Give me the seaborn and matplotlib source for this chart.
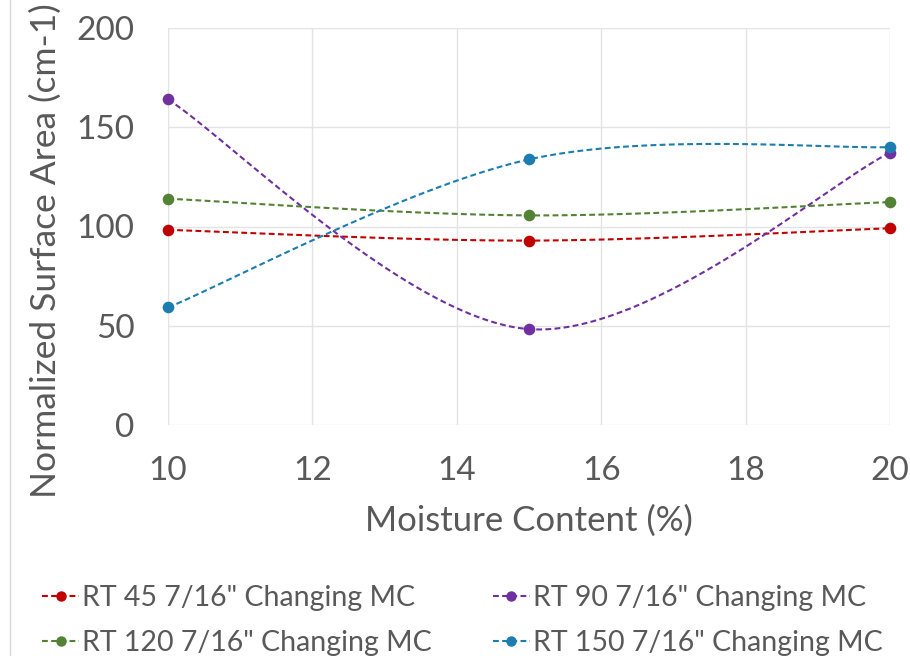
import numpy as np
import pandas as pd
import matplotlib
matplotlib.use("Agg")
import matplotlib.pyplot as plt
import seaborn as sns
from matplotlib.lines import Line2D

# ---- data ----
moisture = [10, 15, 20]
series_names = ['RT 45 7/16" Changing MC', 'RT 90 7/16" Changing MC',
                'RT 120 7/16" Changing MC', 'RT 150 7/16" Changing MC']
rt45 = [98.3, 92.9, 99.1]
rt90 = [164.0, 48.3, 137.2]
rt120 = [114.0, 105.6, 112.3]
rt150 = [59.2, 133.8, 140.0]
colors = ["#C00000", "#7030A0", "#548235", "#1B7DB0"]

x_ticks = [10, 12, 14, 16, 18, 20]
y_ticks = [0, 50, 100, 150, 200]

sns.set_theme(style="white")
plt.rcParams['font.family'] = ['Lato', 'DejaVu Sans']
TXT = "#595959"


def smooth(xs, ys, n=60):
    """Excel-style smoothed line (Catmull-Rom Bezier) through the data points."""
    xs = np.asarray(xs, float); ys = np.asarray(ys, float)
    P = np.column_stack([xs, ys])
    out = []
    for i in range(len(P) - 1):
        p0 = P[i - 1] if i > 0 else P[i]
        p1, p2 = P[i], P[i + 1]
        p3 = P[i + 2] if i + 2 < len(P) else P[i + 1]
        c1 = p1 + (p2 - p0) / 6.0
        c2 = p2 - (p3 - p1) / 6.0
        t = np.linspace(0, 1, n)[:, None]
        seg = ((1 - t) ** 3) * p1 + 3 * ((1 - t) ** 2) * t * c1 + 3 * (1 - t) * t ** 2 * c2 + t ** 3 * p2
        out.append(seg if i == 0 else seg[1:])
    return np.vstack(out)


fig = plt.figure(figsize=(9.10, 6.56), dpi=100)
ax = fig.add_axes([168 / 910, 1 - 425 / 656, (890 - 168) / 910, (425 - 28) / 656])

DASH = (0, (2.8, 1.6))
all_vals = [rt45, rt90, rt120, rt150]
for name, vals, col in zip(series_names, all_vals, colors):
    curve = smooth(moisture, vals)
    cdf = pd.DataFrame({"x": curve[:, 0], "y": curve[:, 1]})
    sns.lineplot(data=cdf, x="x", y="y", ax=ax, color=col, lw=1.5, sort=False,
                 estimator=None, linestyle=DASH, zorder=3)
    pdf = pd.DataFrame({"x": moisture, "y": vals})
    sns.scatterplot(data=pdf, x="x", y="y", ax=ax, color=col, s=70,
                    edgecolor=col, linewidth=0, zorder=4, clip_on=False)

ax.set_xlim(10, 20)
ax.set_ylim(0, 200)
ax.set_xticks(x_ticks)
ax.set_yticks(y_ticks)
ax.grid(True, color="#E3E3E3", lw=1.0)
ax.set_axisbelow(True)
for s in ax.spines.values():
    s.set_visible(False)
ax.tick_params(axis="both", length=0, labelsize=24, labelcolor=TXT)
ax.tick_params(axis="y", pad=24)
ax.tick_params(axis="x", pad=22)
ax.set_xlabel("Moisture Content (%)", fontsize=25, color=TXT)
ax.set_ylabel("Normalized Surface Area (cm-1)", fontsize=25.5, color=TXT)
ax.xaxis.set_label_coords(0.5, (425 - 521) / 397, transform=ax.transAxes)
ax.yaxis.label.set_va("center")
ax.xaxis.label.set_va("center")
ax.yaxis.set_label_coords((46 - 168) / 722, (425 - 251) / 397, transform=ax.transAxes)

handles = [Line2D([0], [0], color=c, lw=1.5, linestyle=DASH, marker="o",
                  markersize=7.5, markeredgewidth=0) for c in colors]
# legend fills column-wise: reorder so rows read 45 | 90, 120 | 150
order = [0, 2, 1, 3]
fig.legend([handles[i] for i in order], [series_names[i] for i in order],
           loc="upper left", bbox_to_anchor=(42 / 910, 1 - 585 / 656),
           ncol=2, frameon=False, fontsize=20.5, labelcolor=TXT, handlelength=1.3,
           handletextpad=0.1, columnspacing=2.15, labelspacing=0.68, borderaxespad=0,
           borderpad=0)

# chart-area border (left edge visible)
fig.add_artist(Line2D([10 / 910, 10 / 910], [0, 1], color="#D9D9D9", lw=1.0,
                      transform=fig.transFigure))

fig.savefig("out.png", dpi=100)
